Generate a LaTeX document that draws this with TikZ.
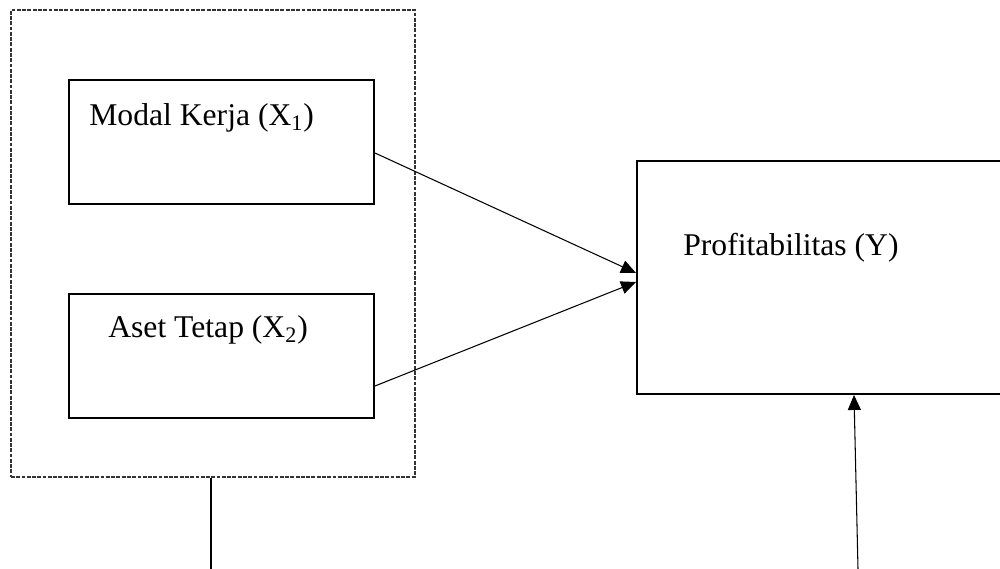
\documentclass[tikz,border=0pt]{standalone}
\usepackage{fontspec}
\setmainfont{Liberation Serif}
\usetikzlibrary{arrows.meta,positioning,calc}

\begin{document}
\begin{tikzpicture}[
  every node/.style={font=\fontsize{18}{21}\selectfont},
  varbox/.style={draw, line width=1.1pt, minimum width=61mm, minimum height=24.8mm, inner sep=0pt},
  grpbox/.style={draw, dash pattern=on 2.2pt off 0.8pt, line width=0.6pt, black!80, minimum width=80.8mm, minimum height=93.4mm, inner sep=0pt},
  lbl/.style={anchor=base west, inner sep=0pt},
  arr/.style={-{Triangle[length=3mm, width=2.6mm]}, line width=0.6pt},
]
  \useasboundingbox (0,0) rectangle (20,-11.38);

  % Independent variables
  \node[grpbox] (grp) at (4.26,-4.87) {};
  \node[varbox] (mk) at (4.43,-2.84) {};
  \node[lbl] (mktxt) at (1.78,-2.52) {Modal Kerja (X\textsubscript{1})};
  \node[varbox] (at) at (4.43,-7.12) {};
  \node[lbl] (attxt) at (2.16,-6.76) {Aset Tetap (X\textsubscript{2})};

  % Dependent variable
  \node[varbox, minimum width=73.2mm, minimum height=46.6mm] (prof) at (16.4,-5.55) {};
  \node[lbl] (proftxt) at (13.66,-5.12) {Profitabilitas (Y)};

  % Connectors
  \draw[arr] ([yshift=-2.2mm]mk.east) -- ([yshift=0.9mm]prof.west);
  \draw[arr] ([yshift=-6mm]at.east) -- ([yshift=-0.9mm]prof.west);
  \coordinate (grpend) at (4.22,-11.38);
  \coordinate (profend) at (17.16,-11.38);
  \draw[line width=0.7pt] (grp.south -| grpend) -- (grpend);
  \draw[arr] (profend) -- ([xshift=6.8mm]prof.south);
\end{tikzpicture}
\end{document}
